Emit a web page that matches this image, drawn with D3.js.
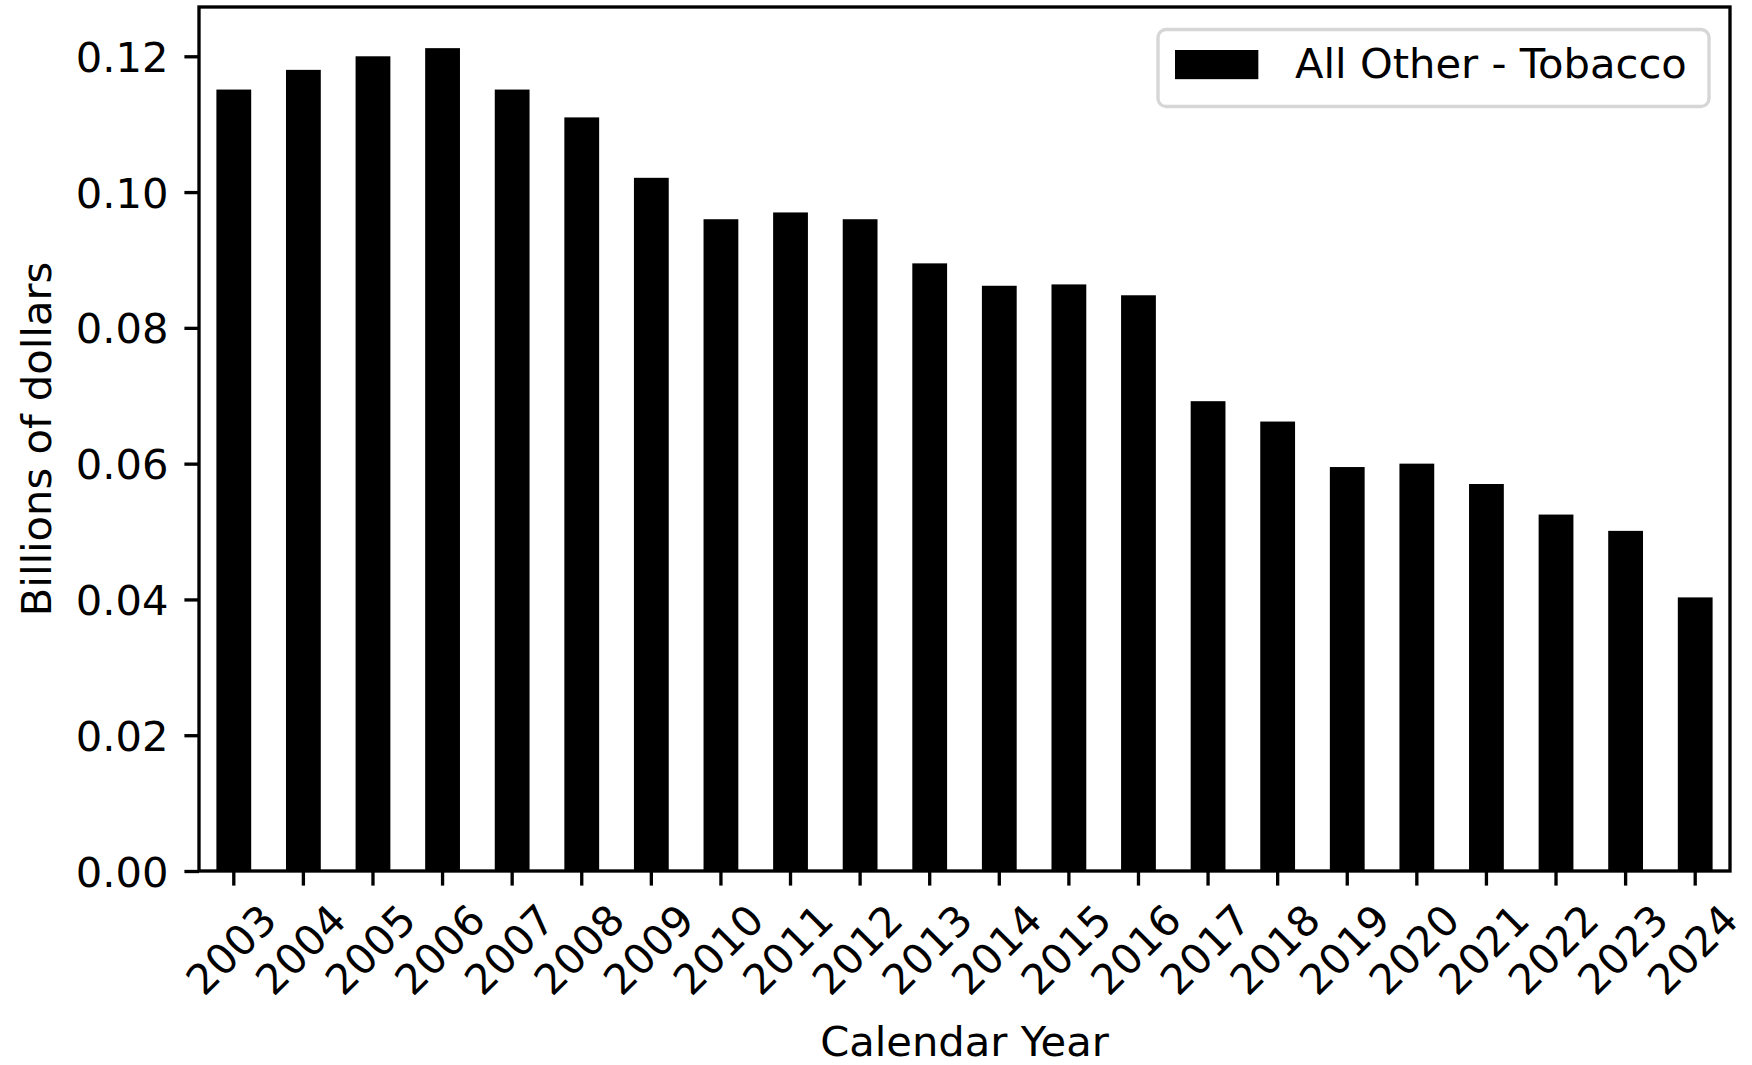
<!DOCTYPE html>
<html>
<head>
<meta charset="utf-8">
<script src="https://cdn.jsdelivr.net/npm/d3@7"></script>
<style>
  body { margin: 0; background: #fff; }
  svg { display: block; font-family: "DejaVu Sans", sans-serif; }
</style>
</head>
<body>
<svg id="svg" width="1752" height="1065"></svg>
<script>
const years = ["2003", "2004", "2005", "2006", "2007", "2008", "2009", "2010", "2011", "2012", "2013",
               "2014", "2015", "2016", "2017", "2018", "2019", "2020", "2021", "2022", "2023", "2024"];
const values = [0.1151, 0.1180, 0.1200, 0.1212, 0.1151, 0.1110, 0.1021, 0.0960, 0.0970, 0.0960, 0.0895,
                0.0862, 0.0864, 0.0848, 0.0692, 0.0662, 0.0595, 0.0600, 0.0570, 0.0525, 0.0501, 0.0403];
const yTicks = [0, 0.02, 0.04, 0.06, 0.08, 0.10, 0.12];
const seriesName = "All Other - Tobacco";

const fs = 41.67;      // 10pt at 300 dpi
const lw = 3.33;       // 0.8pt
const tickLen = 14.6;

const margin = {top: 7, right: 22, bottom: 194, left: 199};
const width = 1752 - margin.left - margin.right;
const height = 1065 - margin.top - margin.bottom;

const svg = d3.select("#svg");
const g = svg.append("g")
    .attr("transform", "translate(" + margin.left + "," + margin.top + ")");

const x = d3.scaleBand()
    .domain(years)
    .range([0, width])
    .paddingInner(0.5)
    .paddingOuter(0.25);

const y = d3.scaleLinear()
    .domain([0, d3.max(values) * 1.05])
    .range([height, 0]);

// bars
g.append("g")
  .selectAll("rect")
    .data(years)
  .enter().append("rect")
    .attr("x", d => x(d))
    .attr("width", x.bandwidth())
    .attr("y", (d, i) => y(values[i]))
    .attr("height", (d, i) => height - y(values[i]))
    .attr("fill", "#000");

// y axis
const yAxis = g.append("g")
    .call(d3.axisLeft(y).tickValues(yTicks).tickFormat(d3.format(".2f"))
      .tickSize(tickLen).tickPadding(16).tickSizeOuter(0))
    .attr("font-family", null)
    .attr("font-size", null);
yAxis.select(".domain").remove();
yAxis.selectAll("line").attr("stroke", "#000").attr("stroke-width", lw);
yAxis.selectAll("text")
    .attr("fill", "#000")
    .style("font-size", fs + "px")
    .attr("dy", "0.36em");

// x axis
const xAxis = g.append("g")
    .attr("transform", "translate(0," + height + ")")
    .call(d3.axisBottom(x).tickSize(tickLen).tickSizeOuter(0))
    .attr("font-family", null)
    .attr("font-size", null);
xAxis.select(".domain").remove();
xAxis.selectAll("line").attr("stroke", "#000").attr("stroke-width", lw);
xAxis.selectAll("text")
    .attr("fill", "#000")
    .style("font-size", fs + "px")
    .attr("dy", null)
    .attr("text-anchor", "start")
    .each(function() {
      // place rotated label like matplotlib: rotated bbox centred under the tick
      const w = this.getComputedTextLength();
      const asc = 0.76 * fs, desc = 0.236 * fs, c = Math.SQRT1_2;
      const x0 = -c * (w + desc - asc) / 2;
      const y0 = tickLen + 14.6 + c * (w + asc);
      d3.select(this)
        .attr("y", null)
        .attr("transform", "translate(" + x0 + "," + y0 + ") rotate(-45)");
    });

// frame
g.append("rect")
    .attr("width", width)
    .attr("height", height)
    .attr("fill", "none")
    .attr("stroke", "#000")
    .attr("stroke-width", lw);

// axis titles
svg.append("text")
    .attr("x", margin.left + width / 2)
    .attr("y", 1056)
    .attr("text-anchor", "middle")
    .style("font-size", fs + "px")
    .text("Calendar Year");

svg.append("text")
    .attr("transform", "translate(51," + (margin.top + height / 2) + ") rotate(-90)")
    .attr("text-anchor", "middle")
    .style("font-size", fs + "px")
    .text("Billions of dollars");

// legend
const legend = svg.append("g").attr("class", "legend");

legend.append("rect")
    .attr("x", 1158)
    .attr("y", 29.5)
    .attr("width", 551)
    .attr("height", 77)
    .attr("rx", 8)
    .attr("fill", "#fff")
    .attr("fill-opacity", 0.8)
    .attr("stroke", "#cccccc")
    .attr("stroke-opacity", 0.8)
    .attr("stroke-width", lw);

legend.append("rect")
    .attr("x", 1175)
    .attr("y", 50)
    .attr("width", 2 * fs)
    .attr("height", 0.7 * fs)
    .attr("fill", "#000");

legend.append("text")
    .attr("x", 1295)
    .attr("y", 78)
    .style("font-size", fs + "px")
    .text(seriesName);
</script>
</body>
</html>
